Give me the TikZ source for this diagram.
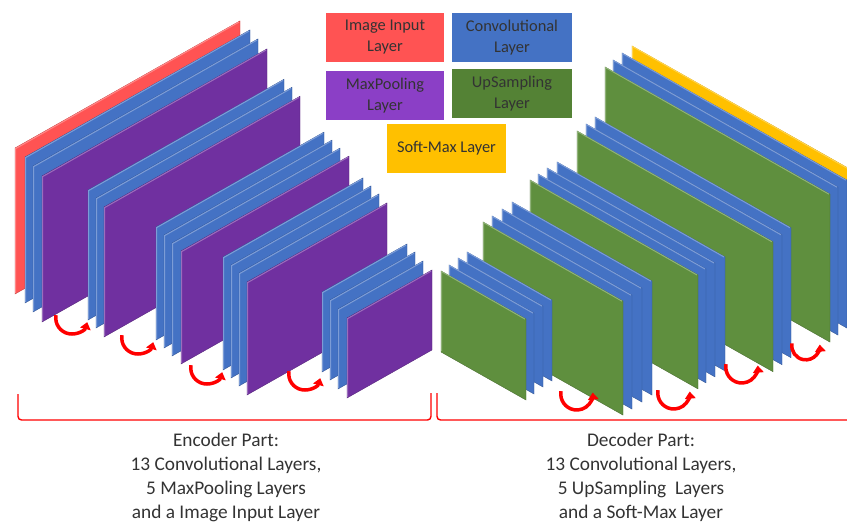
\documentclass[tikz,border=0pt]{standalone}
\usepackage{fontspec}
\setmainfont{Carlito}
\usetikzlibrary{arrows.meta}

\definecolor{inred}{HTML}{FF5353}
\definecolor{convblue}{HTML}{4472C4}
\definecolor{poolpurple}{HTML}{7030A0}
\definecolor{upgreen}{HTML}{5F8F3E}
\definecolor{softyellow}{HTML}{FFC000}
\definecolor{legpurple}{HTML}{8B3FC6}
\definecolor{leggreen}{HTML}{548235}
\definecolor{txtgray}{HTML}{333333}

% one layer sheet: colour, x, y, width, height, slope
\newcommand{\layersheet}[6]{%
  \fill[#1] (#2,#3) -- ({#2+#4},{#3+(#6)*#4}) -- ({#2+#4},{#3+(#6)*#4+#5}) -- (#2,{#3+#5}) -- cycle;
  \draw[#1!75!black,line width=0.3pt] (#2,#3) -- ({#2+#4},{#3+(#6)*#4}) -- ({#2+#4},{#3+(#6)*#4+#5}) -- (#2,{#3+#5}) -- cycle;
  \draw[#1!70!white,line width=0.9pt] ({#2+0.6},{#3+#5-1}) -- ({#2+0.6},{#3+0.6}) -- ({#2+#4-1},{#3+(#6)*(#4-1)+0.6});
}

\begin{document}
\begin{tikzpicture}[x=0.03cm,y=-0.03cm,
  legend/.style={minimum width=3.54cm,minimum height=1.47cm,align=center,inner sep=0pt,
    text=txtgray,font=\fontsize{14}{18}\selectfont},
  partlabel/.style={align=center,text=txtgray,font=\fontsize{16.5}{20.5}\selectfont},
  upturn/.style={red,line width=3pt,-{Triangle[length=6pt,width=9pt]}},
  bracket/.style={red,line width=1.2pt,rounded corners=3pt}]

\clip (0,0) rectangle (847,523);

% legend
\node[legend,fill=inred] (inbox) at (385,37.5) {Image Input\\Layer};
\node[legend,fill=convblue,minimum width=3.6cm] (convbox) at (512,37.5) {Convolutional\\Layer};
\node[legend,fill=legpurple] (poolbox) at (385,95.5) {MaxPooling\\Layer};
\node[legend,fill=leggreen,minimum width=3.6cm] (upbox) at (512,93.5) {UpSampling\\Layer};
\node[legend,fill=softyellow,minimum width=3.57cm] (softbox) at (446.5,148.5) {Soft-Max Layer};

% encoder
\layersheet{inred}{15}{148}{225}{146}{-0.565}
\layersheet{convblue}{25}{157}{225}{146}{-0.565}
\layersheet{convblue}{33}{166}{225}{146}{-0.565}
\layersheet{poolpurple}{42}{176}{225}{146}{-0.565}

\layersheet{convblue}{88}{190}{196}{130}{-0.565}
\layersheet{convblue}{96}{198}{196}{130}{-0.565}
\layersheet{poolpurple}{104}{207}{196}{130}{-0.565}

\layersheet{convblue}{156}{227}{168}{113}{-0.565}
\layersheet{convblue}{164}{235}{168}{113}{-0.565}
\layersheet{convblue}{172}{243}{168}{113}{-0.565}
\layersheet{poolpurple}{181}{251}{168}{113}{-0.565}

\layersheet{convblue}{223}{257}{140}{113}{-0.565}
\layersheet{convblue}{231}{265}{140}{113}{-0.565}
\layersheet{convblue}{239}{273}{140}{113}{-0.565}
\layersheet{poolpurple}{247}{282}{140}{113}{-0.565}

\layersheet{convblue}{322}{292}{85}{80}{-0.565}
\layersheet{convblue}{330}{300}{85}{80}{-0.565}
\layersheet{convblue}{338}{309}{85}{80}{-0.565}
\layersheet{poolpurple}{347}{318}{85}{80}{-0.565}

% decoder
\layersheet{softyellow}{632}{46}{225}{148}{0.565}
\layersheet{convblue}{622}{53}{225}{148}{0.565}
\layersheet{convblue}{613}{60}{225}{148}{0.565}
\layersheet{upgreen}{605}{67}{225}{148}{0.565}

\layersheet{convblue}{595}{117}{196}{130}{0.565}
\layersheet{convblue}{586}{124}{196}{130}{0.565}
\layersheet{upgreen}{577}{131}{196}{130}{0.565}

\layersheet{convblue}{557}{162}{168}{114}{0.565}
\layersheet{convblue}{547}{168}{168}{114}{0.565}
\layersheet{convblue}{538}{174}{168}{114}{0.565}
\layersheet{upgreen}{530}{180}{168}{114}{0.565}

\layersheet{convblue}{512}{202}{140}{114}{0.565}
\layersheet{convblue}{502}{209}{140}{114}{0.565}
\layersheet{convblue}{492}{216}{140}{114}{0.565}
\layersheet{upgreen}{483}{222}{140}{114}{0.565}

\layersheet{convblue}{467}{252}{85}{81}{0.565}
\layersheet{convblue}{458}{258}{85}{81}{0.565}
\layersheet{convblue}{449}{265}{85}{81}{0.565}
\layersheet{upgreen}{441}{271}{85}{81}{0.565}

% pooling and upsampling turns
\coordinate (ea1) at (56,315.2);
\coordinate (ea2) at (122,335.2);
\coordinate (ea3) at (191,365.2);
\coordinate (ea4) at (289,371.2);
\coordinate (da1) at (561,391.2);
\coordinate (da2) at (658,390.2);
\coordinate (da3) at (726,364.2);
\coordinate (da4) at (792,343.4);

\draw[upturn] (ea1) arc[start angle=190,end angle=15,radius=16];
\draw[upturn] (ea2) arc[start angle=190,end angle=15,radius=16];
\draw[upturn] (ea3) arc[start angle=190,end angle=15,radius=16];
\draw[upturn] (ea4) arc[start angle=190,end angle=15,radius=16];
\draw[upturn] (da1) arc[start angle=190,end angle=-5,radius=16];
\draw[upturn] (da2) arc[start angle=190,end angle=-5,radius=16];
\draw[upturn] (da3) arc[start angle=190,end angle=-5,radius=16];
\draw[upturn] (da4) arc[start angle=190,end angle=-5,radius=14];

% parts
\draw[bracket] (18,394) -- (18,420) -- (431,420) -- (431,393);
\draw[bracket] (437,393) -- (437,420) -- (860,420);

\node[partlabel] (enctext) at (226,477) {Encoder Part:\\13 Convolutional Layers,\\5 MaxPooling Layers\\and a Image Input Layer};
\node[partlabel] (dectext) at (641,477) {Decoder Part:\\13 Convolutional Layers,\\5 UpSampling~ Layers\\and a Soft-Max Layer};

\end{tikzpicture}
\end{document}
